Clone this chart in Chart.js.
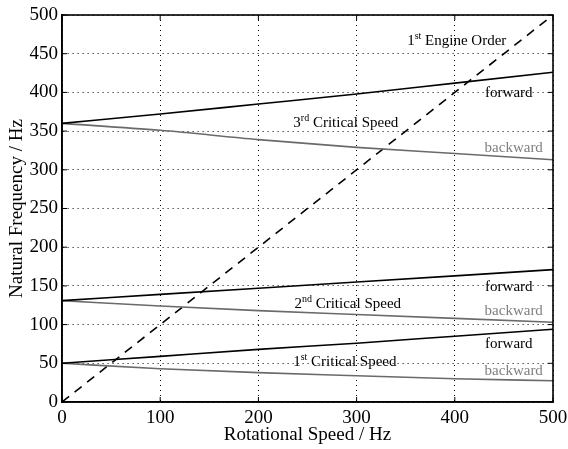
<!DOCTYPE html>
<html>
<head>
<meta charset="utf-8">
<script src="https://cdn.jsdelivr.net/npm/chart.js@4.4.1/dist/chart.umd.min.js"></script>
<style>
  html, body { margin: 0; padding: 0; background: #fff; }
  #wrap { width: 568px; height: 449px; }
</style>
</head>
<body>
<div id="wrap"><canvas id="freqChart"></canvas></div>
<script>
// rotational speed samples (Hz)
const speeds = [0, 100, 200, 300, 400, 500];
// natural frequencies (Hz)
const firstForward   = [50, 59, 68, 76, 85, 94];
const firstBackward  = [50, 43, 38, 34, 30, 27.5];
const secondForward  = [131, 139, 147, 155, 163, 171];
const secondBackward = [131, 124, 118, 113, 108, 103];
const thirdForward   = [360, 372, 385, 398, 412, 426];
const thirdBackward  = [360, 351, 339, 329, 321, 313];
// 1st engine order: frequency = speed
const engineSpeeds = [0, 500];
const engineFreqs  = [0, 500];

const xTickValues = [0, 100, 200, 300, 400, 500];
const yTickValues = [0, 50, 100, 150, 200, 250, 300, 350, 400, 450, 500];

const serif = "'Liberation Serif', 'Times New Roman', serif";
const black = '#000000';
const gray = '#6a6a6a';

function pts(xs, ys) {
    return xs.map((v, i) => ({ x: v, y: ys[i] }));
}

function curve(values, color) {
    return {
        data: pts(speeds, values),
        borderColor: color,
        borderWidth: 1.6,
        pointRadius: 0,
        cubicInterpolationMode: 'monotone',
        fill: false
    };
}

// text labels placed in data coordinates, [text, superscript?]
const notes = [
    { x: 402, y: 461, color: black, parts: [['1', false], ['st', true], [' Engine Order', false]] },
    { x: 455, y: 394.5, color: black, parts: [['forward', false]] },
    { x: 289, y: 355.5, color: black, parts: [['3', false], ['rd', true], [' Critical Speed', false]] },
    { x: 460, y: 323, color: '#7f7f7f', parts: [['backward', false]] },
    { x: 455, y: 144, color: black, parts: [['forward', false]] },
    { x: 291, y: 121, color: black, parts: [['2', false], ['nd', true], [' Critical Speed', false]] },
    { x: 460, y: 113, color: '#7f7f7f', parts: [['backward', false]] },
    { x: 455, y: 69.5, color: black, parts: [['forward', false]] },
    { x: 288, y: 47, color: black, parts: [['1', false], ['st', true], [' Critical Speed', false]] },
    { x: 460, y: 35, color: '#7f7f7f', parts: [['backward', false]] }
];

const frameAndTicks = {
    id: 'frameAndTicks',
    afterDatasetsDraw(chart) {
        const { ctx, chartArea: a, scales: { x, y } } = chart;
        const len = 5;
        ctx.save();
        ctx.strokeStyle = black;
        ctx.lineWidth = 1;
        ctx.beginPath();
        xTickValues.forEach(v => {
            const px = x.getPixelForValue(v);
            ctx.moveTo(px, a.bottom); ctx.lineTo(px, a.bottom - len);
            ctx.moveTo(px, a.top); ctx.lineTo(px, a.top + len);
        });
        yTickValues.forEach(v => {
            const py = y.getPixelForValue(v);
            ctx.moveTo(a.left, py); ctx.lineTo(a.left + len, py);
            ctx.moveTo(a.right, py); ctx.lineTo(a.right - len, py);
        });
        ctx.stroke();
        ctx.lineWidth = 1.6;
        ctx.strokeRect(a.left, a.top, a.right - a.left, a.bottom - a.top);
        ctx.restore();
    }
};

const annotate = {
    id: 'annotate',
    afterDatasetsDraw(chart) {
        const { ctx, scales: { x, y } } = chart;
        const mainFont = '15px ' + serif;
        const supFont = '10px ' + serif;
        ctx.save();
        ctx.textAlign = 'left';
        ctx.textBaseline = 'alphabetic';
        notes.forEach(n => {
            const px = x.getPixelForValue(n.x);
            const py = y.getPixelForValue(n.y);
            let w = 0;
            n.parts.forEach(([t, sup]) => {
                ctx.font = sup ? supFont : mainFont;
                w += ctx.measureText(t).width;
            });
            let cx = px - w / 2;
            ctx.fillStyle = n.color;
            n.parts.forEach(([t, sup]) => {
                ctx.font = sup ? supFont : mainFont;
                ctx.fillText(t, cx, sup ? py - 6 : py);
                cx += ctx.measureText(t).width;
            });
        });
        ctx.restore();
    }
};

const ctx = document.getElementById('freqChart').getContext('2d');

new Chart(ctx, {
    type: 'line',
    data: {
        datasets: [
            curve(thirdForward, black),
            curve(thirdBackward, gray),
            curve(secondForward, black),
            curve(secondBackward, gray),
            curve(firstForward, black),
            curve(firstBackward, gray),
            {
                data: pts(engineSpeeds, engineFreqs),
                borderColor: black,
                borderWidth: 1.6,
                borderDash: [9, 7],
                pointRadius: 0,
                fill: false
            }
        ]
    },
    options: {
        responsive: true,
        maintainAspectRatio: false,
        animation: false,
        layout: {
            padding: { top: 15, right: 15, left: 0, bottom: 0 }
        },
        plugins: {
            legend: { display: false },
            tooltip: { enabled: false }
        },
        scales: {
            x: {
                type: 'linear',
                min: 0,
                max: 500,
                afterBuildTicks: scale => { scale.ticks = xTickValues.map(v => ({ value: v })); },
                afterFit: scale => {
                    scale.height = 47;
                    scale.paddingLeft = 0;
                    scale.paddingRight = 0;
                },
                ticks: {
                    color: black,
                    padding: 5,
                    maxRotation: 0,
                    font: { family: serif, size: 19 }
                },
                grid: {
                    color: black,
                    lineWidth: 1,
                    drawTicks: false
                },
                border: { color: black, width: 1.6, dash: [1, 4] },
                title: {
                    display: true,
                    text: 'Rotational Speed / Hz',
                    color: black,
                    padding: { top: 0, bottom: 3 },
                    font: { family: serif, size: 19 }
                }
            },
            y: {
                type: 'linear',
                min: 0,
                max: 500,
                afterBuildTicks: scale => { scale.ticks = yTickValues.map(v => ({ value: v })); },
                afterFit: scale => {
                    scale.width = 62;
                    scale.paddingTop = 0;
                    scale.paddingBottom = 0;
                },
                ticks: {
                    color: black,
                    padding: 4,
                    font: { family: serif, size: 19 }
                },
                grid: {
                    color: black,
                    lineWidth: 1,
                    drawTicks: false
                },
                border: { color: black, width: 1.6, dash: [1, 4] },
                title: {
                    display: true,
                    text: 'Natural Frequency / Hz',
                    color: black,
                    padding: { top: 6, bottom: 0 },
                    font: { family: serif, size: 19 }
                }
            }
        }
    },
    plugins: [frameAndTicks, annotate]
});
</script>
</body>
</html>
